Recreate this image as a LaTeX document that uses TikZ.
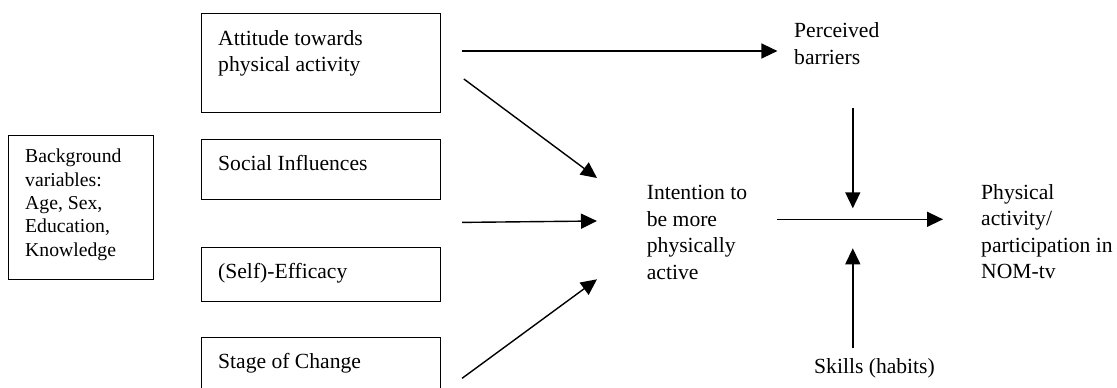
\documentclass[tikz,border=0pt]{standalone}
\usepackage{fontspec}
\setmainfont{Liberation Serif}
\usetikzlibrary{arrows.meta}
\begin{document}
\begin{tikzpicture}[x=1pt,y=-1pt,
  box/.style={draw, line width=1.4pt, rectangle, inner sep=0pt, anchor=north west},
  txt/.style={inner sep=0pt, anchor=north west, align=left, font=\fontsize{21.6}{26.5}\selectfont},
  small/.style={txt, font=\fontsize{19.7}{23.3}\selectfont},
  arr/.style={line width=1.4pt, -{Triangle[length=16pt,width=15pt]}}]
\useasboundingbox (0,0) rectangle (1117,388);
% boxes
\node[box, minimum width=239pt, minimum height=99pt] (att) at (201,13) {};
\node[box, minimum width=239pt, minimum height=60pt] (soc) at (201,139) {};
\node[box, minimum width=239pt, minimum height=54pt] (eff) at (201,247) {};
\node[box, minimum width=239pt, minimum height=54pt] (stg) at (201,337) {};
\node[box, minimum width=145pt, minimum height=144pt] (bg) at (8,135) {};
% texts
\node[txt] (attT) at (218,30) {Attitude towards\\physical activity};
\node[txt] (socT) at (218,155) {Social Influences};
\node[txt] (effT) at (218,263.5) {(Self)-Efficacy};
\node[txt] (stgT) at (218,353.5) {Stage of Change};
\node[small] (bgT) at (25,149) {Background\\variables:\\Age, Sex,\\Education,\\Knowledge};
\node[txt] (perc) at (794,22.5) {Perceived\\barriers};
\node[txt] (int) at (646.7,185) {Intention to\\be more\\physically\\active};
\node[txt] (phys) at (981,184) {Physical\\activity/\\participation in\\NOM-tv};
\node[txt] (skill) at (814,358.5) {Skills (habits)};
\coordinate (mid) at (852.8,219.3);
% arrows
\draw[arr] ([xshift=20.7pt,yshift=-38pt]att.north east) -- ([xshift=-16.6pt,yshift=-28.5pt]perc.north west);
\draw[arr] ([xshift=22.5pt,yshift=-66pt]att.north east) -- ([xshift=-49.7pt,yshift=7pt]int.north west);
\draw[arr] ([xshift=20.7pt,yshift=-22pt]soc.south east) -- ([xshift=-49.7pt,yshift=-36pt]int.north west);
\draw[arr] ([xshift=20.7pt,yshift=-41.3pt]stg.north east) -- ([xshift=-49.7pt,yshift=-94.3pt]int.north west);
\draw[arr] ([xshift=130.7pt,yshift=-34.3pt]int.north west) -- ([xshift=-38pt,yshift=-35.3pt]phys.north west);
\draw[arr] ([xshift=58.8pt,yshift=-85.2pt]perc.north west) -- ([yshift=11pt]mid);
\draw[arr] ([xshift=38.8pt,yshift=10.2pt]skill.north west) -- ([yshift=-29pt]mid);
\end{tikzpicture}
\end{document}
